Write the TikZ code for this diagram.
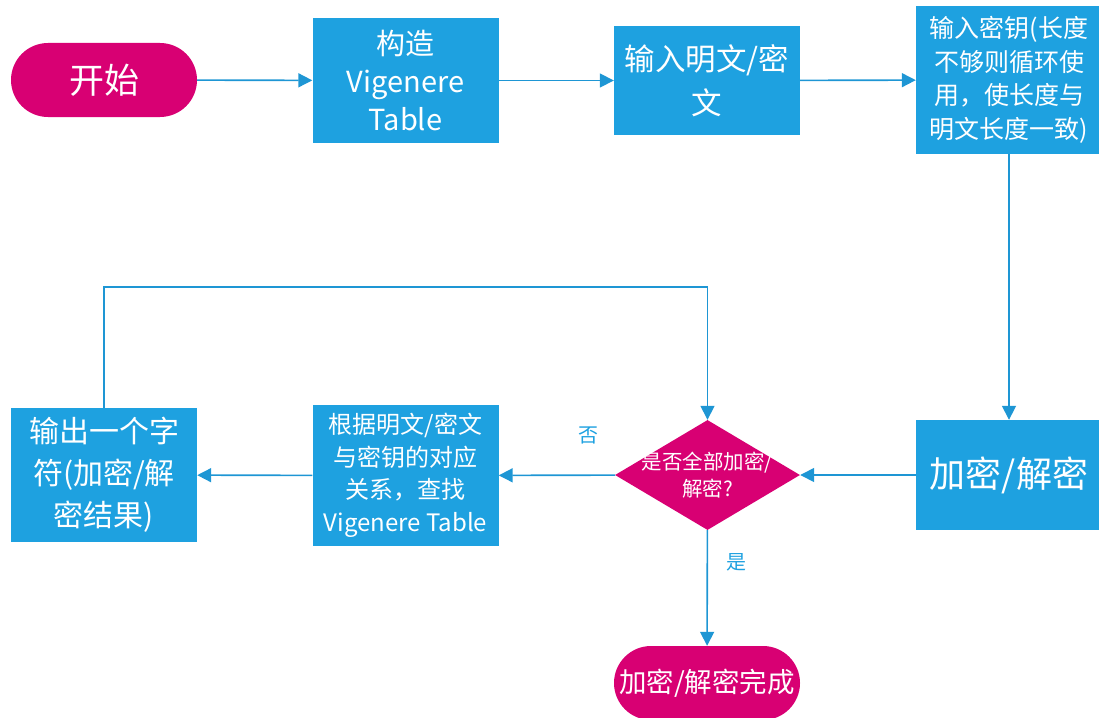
\documentclass[tikz,border=0pt]{standalone}
\usepackage{fontspec}
\setmainfont{Noto Sans CJK SC}
\usetikzlibrary{arrows.meta,shapes.geometric}
\definecolor{boxblue}{HTML}{1EA1E0}
\definecolor{mag}{HTML}{D80073}
\definecolor{linec}{HTML}{1E96D4}
\tikzset{
  proc/.style={fill=boxblue, draw=none, text=white, align=center, inner sep=0pt, minimum width=186pt},
  pill/.style={fill=mag, draw=none, text=white, align=center, inner sep=0pt, minimum width=186pt, minimum height=74pt, rounded corners=37pt},
  conn/.style={draw=linec, line width=1.6pt, -{Triangle[length=14pt,width=14pt]}},
  plain/.style={draw=linec, line width=1.6pt},
  lbl/.style={text=boxblue, font=\fontsize{20}{22}\selectfont},
}
\begin{document}
\begin{tikzpicture}[x=1pt,y=-1pt]
\useasboundingbox (0,0) rectangle (1099,717);
\node[pill, font=\fontsize{35}{38}\selectfont] (start) at (104,80) {开始};
\node[proc, minimum height=125pt, font=\fontsize{29}{38}\selectfont] (tab) at (405.5,80.5) {构造\\Vigenere\\Table};
\node[proc, minimum height=109pt, font=\fontsize{30.5}{44}\selectfont] (inp) at (707,80.5) {输入明文/密\\文};
\node[proc, minimum height=148pt, font=\fontsize{25}{33.5}\selectfont] (key) at (1009,80) {输入密钥(长度\\不够则循环使\\用，使长度与\\明文长度一致)};
\node[proc, minimum height=110pt, font=\fontsize{36}{38}\selectfont] (enc) at (1009,475) {加密/解密};
\node[diamond, fill=mag, draw=none, inner sep=0pt, minimum width=185pt, minimum height=110pt] (dia) at (707.5,475) {};
\node[text=white, align=center, font=\fontsize{20.5}{27}\selectfont] (diat) at (dia.center) {是否全部加密/\\解密?};
\node[proc, minimum height=141pt, font=\fontsize{24}{32.5}\selectfont] (look) at (405.5,475.5) {根据明文/密文\\与密钥的对应\\关系，查找\\Vigenere Table};
\node[proc, minimum height=134pt, font=\fontsize{30}{42}\selectfont] (out) at (104,475) {输出一个字\\符(加密/解\\密结果)};
\node[pill, font=\fontsize{27.5}{32}\selectfont] (fin) at (707,683) {加密/解密完成};
\node[lbl] (no) at (588,435) {否};
\node[lbl] (yes) at (736,562) {是};
\coordinate (c1) at (104,287);
\coordinate (c2) at (707.5,287);
\draw[conn] (start) -- (tab);
\draw[conn] (tab) -- (inp);
\draw[conn] (inp) -- (key);
\draw[conn] (key) -- (enc);
\draw[conn] (enc) -- (dia);
\draw[conn] (dia) -- (look);
\draw[conn] (look) -- (out);
\draw[conn] (out.north) -- (c1) -- (c2) -- (dia.north);
\draw[conn] (dia) -- (fin);
\end{tikzpicture}
\end{document}
